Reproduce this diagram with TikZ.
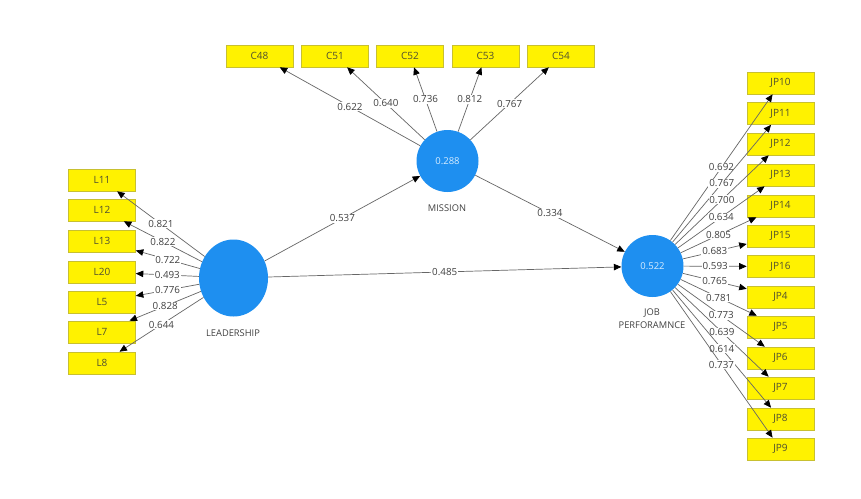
\documentclass[tikz,border=0pt]{standalone}
\usepackage{fontspec}
\setmainfont{Open Sans}
\usetikzlibrary{arrows.meta,shapes.geometric}
\definecolor{lvblue}{HTML}{1E8FF0}
\definecolor{lvtext}{HTML}{D6ECFF}
\definecolor{boxborder}{HTML}{C8C030}
\definecolor{boxtext}{HTML}{505030}
\definecolor{linegray}{HTML}{666666}
\definecolor{labtext}{HTML}{404040}
\begin{document}
\begin{tikzpicture}[x=1pt,y=-1pt,
  ind/.style={draw=boxborder, line width=0.6pt, fill=yellow, minimum width=67pt, minimum height=22pt, inner sep=0pt, text=boxtext, font=\fontsize{10}{11}\selectfont},
  lat/.style={circle, fill=lvblue, minimum size=62pt, inner sep=0pt, text=lvtext, font=\fontsize{9.5}{10}\selectfont},
  ld/.style={draw=linegray, line width=0.7pt, -{Triangle[length=7.5pt,width=6.5pt,color=black]}},
  wt/.style={fill=white, inner sep=0.8pt, text=labtext, font=\fontsize{9.8}{11}\selectfont, midway},
  lvlabel/.style={text=labtext, font=\fontsize{9.3}{13}\selectfont, align=center, inner sep=0pt}]
\useasboundingbox[fill=white] (0,0) rectangle (861,498);

% latent variables
\node[lat] (mis) at (447.5,161) {0.288};
\node[lat] (job) at (652.5,266) {0.522};
\node[ellipse, fill=lvblue, minimum width=69pt, minimum height=77pt, inner sep=0pt] (lead) at (233.5,278) {};
\node[lvlabel] (misl) at (447,208) {MISSION};
\node[lvlabel] (leadl) at (233,333) {LEADERSHIP};
\node[lvlabel] (jobl) at (652,318.5) {JOB\\PERFORAMNCE};

% mission indicators
\node[ind] (C48) at (259.5,56) {C48};
\node[ind] (C51) at (335,56) {C51};
\node[ind] (C52) at (410,56) {C52};
\node[ind] (C53) at (485.5,56) {C53};
\node[ind] (C54) at (561,56) {C54};

% leadership indicators
\node[ind] (L11) at (102,180) {L11};
\node[ind] (L12) at (102,210) {L12};
\node[ind] (L13) at (102,241) {L13};
\node[ind] (L20) at (102,272) {L20};
\node[ind] (L5) at (102,302) {L5};
\node[ind] (L7) at (102,332) {L7};
\node[ind] (L8) at (102,363) {L8};

% job performance indicators
\node[ind] (JP10) at (780.5,83) {JP10};
\node[ind] (JP11) at (780.5,113.5) {JP11};
\node[ind] (JP12) at (780.5,144) {JP12};
\node[ind] (JP13) at (780.5,175) {JP13};
\node[ind] (JP14) at (780.5,206) {JP14};
\node[ind] (JP15) at (780.5,236) {JP15};
\node[ind] (JP16) at (780.5,266.5) {JP16};
\node[ind] (JP4) at (780.5,297) {JP4};
\node[ind] (JP5) at (780.5,327) {JP5};
\node[ind] (JP6) at (780.5,358) {JP6};
\node[ind] (JP7) at (780.5,388) {JP7};
\node[ind] (JP8) at (780.5,419) {JP8};
\node[ind] (JP9) at (780.5,449) {JP9};

% structural paths
\draw[ld] (lead) -- node[wt] {0.537} (mis);
\draw[ld] (mis) -- node[wt] {0.334} (job);
\draw[ld] (lead) -- node[wt] {0.485} (job);

% mission loadings
\draw[ld] (mis) -- node[wt] {0.622} (C48);
\draw[ld] (mis) -- node[wt] {0.640} (C51);
\draw[ld] (mis) -- node[wt] {0.736} (C52);
\draw[ld] (mis) -- node[wt] {0.812} (C53);
\draw[ld] (mis) -- node[wt] {0.767} (C54);

% leadership loadings
\draw[ld] (lead) -- node[wt] {0.821} (L11);
\draw[ld] (lead) -- node[wt] {0.822} (L12);
\draw[ld] (lead) -- node[wt] {0.722} (L13);
\draw[ld] (lead) -- node[wt] {0.493} (L20);
\draw[ld] (lead) -- node[wt] {0.776} (L5);
\draw[ld] (lead) -- node[wt] {0.828} (L7);
\draw[ld] (lead) -- node[wt] {0.644} (L8);

% job performance loadings
\draw[ld] (job) -- node[wt] {0.692} (JP10);
\draw[ld] (job) -- node[wt] {0.767} (JP11);
\draw[ld] (job) -- node[wt] {0.700} (JP12);
\draw[ld] (job) -- node[wt] {0.634} (JP13);
\draw[ld] (job) -- node[wt] {0.805} (JP14);
\draw[ld] (job) -- node[wt] {0.683} (JP15);
\draw[ld] (job) -- node[wt] {0.593} (JP16);
\draw[ld] (job) -- node[wt] {0.765} (JP4);
\draw[ld] (job) -- node[wt] {0.781} (JP5);
\draw[ld] (job) -- node[wt] {0.773} (JP6);
\draw[ld] (job) -- node[wt] {0.639} (JP7);
\draw[ld] (job) -- node[wt] {0.614} (JP8);
\draw[ld] (job) -- node[wt] {0.737} (JP9);
\end{tikzpicture}
\end{document}
